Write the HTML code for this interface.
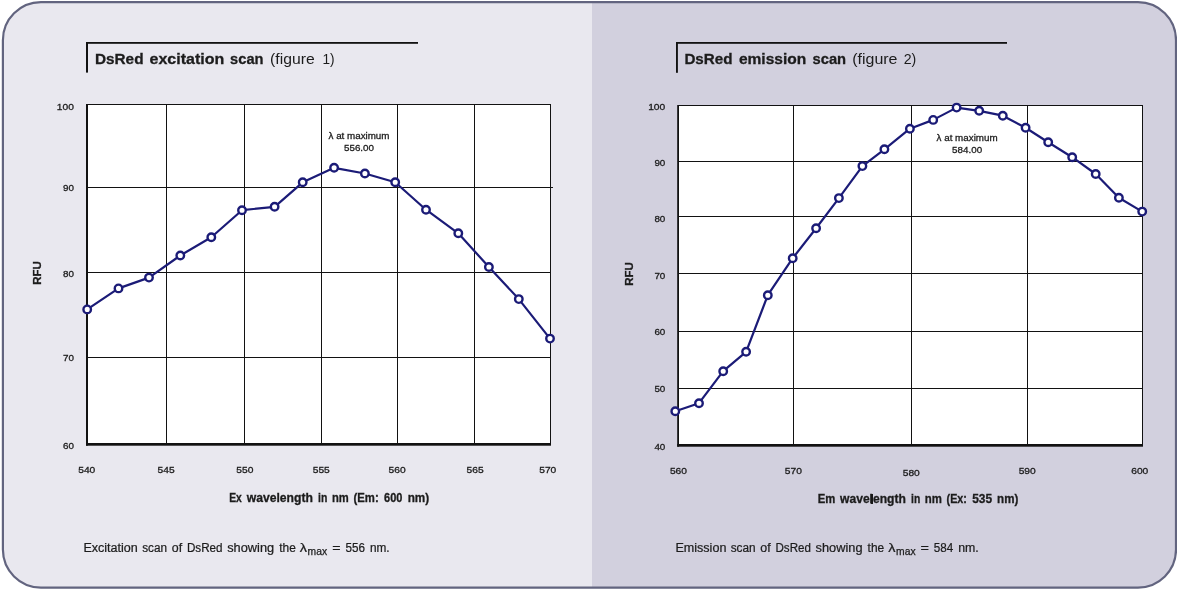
<!DOCTYPE html>
<html><head><meta charset="utf-8"><title>DsRed scans</title>
<style>
html,body{margin:0;padding:0;background:#fff;}
body{width:1177px;height:590px;overflow:hidden;font-family:"Liberation Sans",sans-serif;}
svg{display:block;will-change:transform;font-family:"Liberation Sans",sans-serif;}
text{fill:#1c1c1c;}
.tick{font-size:10.4px;stroke:#1c1c1c;stroke-width:.25px;}
.ann{font-size:9.8px;stroke:#1c1c1c;stroke-width:.3px;}
</style></head><body>
<svg width="1177" height="590" viewBox="0 0 1177 590">
<defs><clipPath id="panel"><rect x="2.9" y="2.2" width="1173.1" height="585.4" rx="38" ry="38"/></clipPath></defs>
<g clip-path="url(#panel)">
<rect x="0" y="0" width="592" height="590" fill="#e9e8ef"/>
<rect x="592" y="0" width="585" height="590" fill="#d2d0de"/>
</g>
<rect x="2.9" y="2.2" width="1173.1" height="585.4" rx="38" ry="38" fill="none" stroke="#62647f" stroke-width="2.2"/>
<!-- left title -->
<g fill="#121212"><rect x="86" y="42" width="332" height="1.8"/><rect x="86" y="42" width="2" height="30.6"/></g>
<text y="64.1" font-size="15.4" font-weight="bold" stroke="#1c1c1c" stroke-width=".3"><tspan x="94.90" textLength="48.61" lengthAdjust="spacingAndGlyphs">DsRed</tspan><tspan x="149.50" textLength="74.72" lengthAdjust="spacingAndGlyphs">excitation</tspan><tspan x="230.10" textLength="33.38" lengthAdjust="spacingAndGlyphs">scan</tspan></text>
<text y="64.1" font-size="15.4" fill="#3a3a3a"><tspan x="270.10" textLength="44.62" lengthAdjust="spacingAndGlyphs">(figure</tspan><tspan x="322.50" textLength="12.09" lengthAdjust="spacingAndGlyphs">1)</tspan></text>
<rect x="87" y="104.5" width="464" height="340" fill="#fff"/>
<g fill="#121212">
<rect x="166" y="104" width="1" height="341"/><rect x="244" y="104" width="1" height="341"/><rect x="321" y="104" width="1" height="341"/><rect x="397" y="104" width="1" height="341"/><rect x="474" y="104" width="1" height="341"/><rect x="550" y="104" width="1" height="341"/><rect x="87" y="104" width="464" height="1"/><rect x="87" y="187" width="466" height="1"/><rect x="87" y="272" width="464" height="1"/><rect x="87" y="357" width="464" height="1"/><rect x="86" y="104" width="2" height="341.6"/><rect x="86" y="443" width="465" height="2.7"/>
</g>
<polyline fill="none" stroke="#1b1b77" stroke-width="2.2" stroke-linejoin="round" points="87.2,309.4 118.5,288.4 149,277.6 180.3,255.5 211.3,237.3 242,210.2 274.6,206.8 302.7,182.3 334.1,167.8 364.9,173.5 395.2,182.2 426,209.7 458.3,233.3 488.9,267 518.8,299.1 550,338.6"/>
<g fill="#fff" stroke="#1b1b77" stroke-width="2.4"><circle cx="87.2" cy="309.4" r="3.75"/><circle cx="118.5" cy="288.4" r="3.75"/><circle cx="149" cy="277.6" r="3.75"/><circle cx="180.3" cy="255.5" r="3.75"/><circle cx="211.3" cy="237.3" r="3.75"/><circle cx="242" cy="210.2" r="3.75"/><circle cx="274.6" cy="206.8" r="3.75"/><circle cx="302.7" cy="182.3" r="3.75"/><circle cx="334.1" cy="167.8" r="3.75"/><circle cx="364.9" cy="173.5" r="3.75"/><circle cx="395.2" cy="182.2" r="3.75"/><circle cx="426" cy="209.7" r="3.75"/><circle cx="458.3" cy="233.3" r="3.75"/><circle cx="488.9" cy="267" r="3.75"/><circle cx="518.8" cy="299.1" r="3.75"/><circle cx="550" cy="338.6" r="3.75"/></g>
<text y="109.6" font-size="9.7" stroke="#1c1c1c" stroke-width=".3"><tspan x="56.80" textLength="17.07" lengthAdjust="spacingAndGlyphs">100</tspan></text>
<text y="190.8" font-size="9.7" stroke="#1c1c1c" stroke-width=".3"><tspan x="63.00" textLength="10.93" lengthAdjust="spacingAndGlyphs">90</tspan></text>
<text y="276.5" font-size="9.7" stroke="#1c1c1c" stroke-width=".3"><tspan x="63.00" textLength="10.93" lengthAdjust="spacingAndGlyphs">80</tspan></text>
<text y="361.1" font-size="9.7" stroke="#1c1c1c" stroke-width=".3"><tspan x="63.00" textLength="10.93" lengthAdjust="spacingAndGlyphs">70</tspan></text>
<text y="449.1" font-size="9.7" stroke="#1c1c1c" stroke-width=".3"><tspan x="63.00" textLength="10.93" lengthAdjust="spacingAndGlyphs">60</tspan></text>
<text y="473.2" font-size="9.7" stroke="#1c1c1c" stroke-width=".3"><tspan x="78.25" textLength="17.07" lengthAdjust="spacingAndGlyphs">540</tspan></text>
<text y="473.2" font-size="9.7" stroke="#1c1c1c" stroke-width=".3"><tspan x="157.55" textLength="17.07" lengthAdjust="spacingAndGlyphs">545</tspan></text>
<text y="473.2" font-size="9.7" stroke="#1c1c1c" stroke-width=".3"><tspan x="236.35" textLength="17.07" lengthAdjust="spacingAndGlyphs">550</tspan></text>
<text y="473.2" font-size="9.7" stroke="#1c1c1c" stroke-width=".3"><tspan x="312.75" textLength="17.07" lengthAdjust="spacingAndGlyphs">555</tspan></text>
<text y="473.2" font-size="9.7" stroke="#1c1c1c" stroke-width=".3"><tspan x="388.55" textLength="17.07" lengthAdjust="spacingAndGlyphs">560</tspan></text>
<text y="473.2" font-size="9.7" stroke="#1c1c1c" stroke-width=".3"><tspan x="466.55" textLength="17.07" lengthAdjust="spacingAndGlyphs">565</tspan></text>
<text y="473.2" font-size="9.7" stroke="#1c1c1c" stroke-width=".3"><tspan x="539.25" textLength="17.07" lengthAdjust="spacingAndGlyphs">570</tspan></text>
<text y="501.8" font-size="12" font-weight="bold" stroke="#1c1c1c" stroke-width=".3"><tspan x="229.20" textLength="12.59" lengthAdjust="spacingAndGlyphs">Ex</tspan><tspan x="246.76" textLength="66.11" lengthAdjust="spacingAndGlyphs">wavelength</tspan><tspan x="318.00" textLength="9.28" lengthAdjust="spacingAndGlyphs">in</tspan><tspan x="332.00" textLength="16.80" lengthAdjust="spacingAndGlyphs">nm</tspan><tspan x="353.50" textLength="25.18" lengthAdjust="spacingAndGlyphs">(Em:</tspan><tspan x="384.10" textLength="18.32" lengthAdjust="spacingAndGlyphs">600</tspan><tspan x="407.70" textLength="21.50" lengthAdjust="spacingAndGlyphs">nm)</tspan></text>
<text font-size="11.5" font-weight="bold" stroke="#1c1c1c" stroke-width=".3" text-anchor="middle" transform="translate(40.8 273) rotate(-90)">RFU</text>
<text class="ann" text-anchor="middle" x="359" y="138.9">λ at maximum</text><text class="ann" text-anchor="middle" x="359" y="150.8">556.00</text>
<text y="551.5" font-size="12" stroke="#1c1c1c" stroke-width=".22"><tspan x="83.40" textLength="54.43" lengthAdjust="spacingAndGlyphs">Excitation</tspan><tspan x="142.20" textLength="24.87" lengthAdjust="spacingAndGlyphs">scan</tspan><tspan x="171.80" textLength="10.34" lengthAdjust="spacingAndGlyphs">of</tspan><tspan x="186.90" textLength="35.69" lengthAdjust="spacingAndGlyphs">DsRed</tspan><tspan x="227.20" textLength="46.93" lengthAdjust="spacingAndGlyphs">showing</tspan><tspan x="279.20" textLength="16.59" lengthAdjust="spacingAndGlyphs">the</tspan><tspan x="299.80" textLength="7.20" lengthAdjust="spacingAndGlyphs">λ</tspan><tspan x="332.20" textLength="8.31" lengthAdjust="spacingAndGlyphs">=</tspan><tspan x="345.60" textLength="19.52" lengthAdjust="spacingAndGlyphs">556</tspan><tspan x="369.90" textLength="19.70" lengthAdjust="spacingAndGlyphs">nm.</tspan></text>
<text y="555.3" font-size="10" stroke="#1c1c1c" stroke-width=".25"><tspan x="307.60" textLength="19.52" lengthAdjust="spacingAndGlyphs">max</tspan></text>
<!-- right title -->
<g fill="#121212"><rect x="676" y="42" width="331" height="1.8"/><rect x="676" y="42" width="1.9" height="30.8"/></g>
<text y="64.1" font-size="15.4" font-weight="bold" stroke="#1c1c1c" stroke-width=".3"><tspan x="684.40" textLength="48.11" lengthAdjust="spacingAndGlyphs">DsRed</tspan><tspan x="738.90" textLength="67.42" lengthAdjust="spacingAndGlyphs">emission</tspan><tspan x="812.50" textLength="33.58" lengthAdjust="spacingAndGlyphs">scan</tspan></text>
<text y="64.1" font-size="15.4" fill="#3a3a3a"><tspan x="852.20" textLength="45.32" lengthAdjust="spacingAndGlyphs">(figure</tspan><tspan x="903.70" textLength="12.58" lengthAdjust="spacingAndGlyphs">2)</tspan></text>
<rect x="678" y="105.5" width="465" height="340" fill="#fff"/>
<g fill="#121212">
<rect x="793" y="105" width="1" height="341"/><rect x="911" y="105" width="1" height="341"/><rect x="1027" y="105" width="1" height="341"/><rect x="1142" y="105" width="1" height="341"/><rect x="678" y="105" width="465" height="1"/><rect x="678" y="161" width="465" height="1"/><rect x="678" y="216" width="465" height="1"/><rect x="678" y="273" width="465" height="1"/><rect x="678" y="331" width="465" height="1"/><rect x="678" y="388" width="465" height="1"/><rect x="677.2" y="105" width="1.8" height="341.7"/><rect x="677.2" y="444" width="465.8" height="2.7"/>
</g>
<polyline fill="none" stroke="#1b1b77" stroke-width="2.2" stroke-linejoin="round" points="675.3,411.2 699,403.2 723.2,371.2 746.1,351.8 767.8,295.2 792.7,258.2 816.1,228.3 838.9,198.1 862.4,166.1 884.4,149.3 909.9,128.7 933.2,119.9 956.6,107.6 979.2,110.8 1002.8,115.7 1025.6,127.8 1048.2,142.2 1072.2,157.2 1095.7,174 1118.9,197.8 1142.2,211.6"/>
<g fill="#fff" stroke="#1b1b77" stroke-width="2.4"><circle cx="675.3" cy="411.2" r="3.75"/><circle cx="699" cy="403.2" r="3.75"/><circle cx="723.2" cy="371.2" r="3.75"/><circle cx="746.1" cy="351.8" r="3.75"/><circle cx="767.8" cy="295.2" r="3.75"/><circle cx="792.7" cy="258.2" r="3.75"/><circle cx="816.1" cy="228.3" r="3.75"/><circle cx="838.9" cy="198.1" r="3.75"/><circle cx="862.4" cy="166.1" r="3.75"/><circle cx="884.4" cy="149.3" r="3.75"/><circle cx="909.9" cy="128.7" r="3.75"/><circle cx="933.2" cy="119.9" r="3.75"/><circle cx="956.6" cy="107.6" r="3.75"/><circle cx="979.2" cy="110.8" r="3.75"/><circle cx="1002.8" cy="115.7" r="3.75"/><circle cx="1025.6" cy="127.8" r="3.75"/><circle cx="1048.2" cy="142.2" r="3.75"/><circle cx="1072.2" cy="157.2" r="3.75"/><circle cx="1095.7" cy="174" r="3.75"/><circle cx="1118.9" cy="197.8" r="3.75"/><circle cx="1142.2" cy="211.6" r="3.75"/></g>
<text y="110.4" font-size="9.7" stroke="#1c1c1c" stroke-width=".3"><tspan x="648.20" textLength="17.07" lengthAdjust="spacingAndGlyphs">100</tspan></text>
<text y="165.7" font-size="9.7" stroke="#1c1c1c" stroke-width=".3"><tspan x="654.40" textLength="10.93" lengthAdjust="spacingAndGlyphs">90</tspan></text>
<text y="221.5" font-size="9.7" stroke="#1c1c1c" stroke-width=".3"><tspan x="654.40" textLength="10.93" lengthAdjust="spacingAndGlyphs">80</tspan></text>
<text y="278.6" font-size="9.7" stroke="#1c1c1c" stroke-width=".3"><tspan x="654.40" textLength="10.93" lengthAdjust="spacingAndGlyphs">70</tspan></text>
<text y="335.2" font-size="9.7" stroke="#1c1c1c" stroke-width=".3"><tspan x="654.40" textLength="10.93" lengthAdjust="spacingAndGlyphs">60</tspan></text>
<text y="392.1" font-size="9.7" stroke="#1c1c1c" stroke-width=".3"><tspan x="654.40" textLength="10.93" lengthAdjust="spacingAndGlyphs">50</tspan></text>
<text y="450.2" font-size="9.7" stroke="#1c1c1c" stroke-width=".3"><tspan x="654.40" textLength="10.93" lengthAdjust="spacingAndGlyphs">40</tspan></text>
<text y="474.1" font-size="9.7" stroke="#1c1c1c" stroke-width=".3"><tspan x="669.95" textLength="17.07" lengthAdjust="spacingAndGlyphs">560</tspan></text>
<text y="474.1" font-size="9.7" stroke="#1c1c1c" stroke-width=".3"><tspan x="784.85" textLength="17.07" lengthAdjust="spacingAndGlyphs">570</tspan></text>
<text y="476" font-size="9.7" stroke="#1c1c1c" stroke-width=".3"><tspan x="902.75" textLength="17.07" lengthAdjust="spacingAndGlyphs">580</tspan></text>
<text y="474" font-size="9.7" stroke="#1c1c1c" stroke-width=".3"><tspan x="1018.65" textLength="17.07" lengthAdjust="spacingAndGlyphs">590</tspan></text>
<text y="474.1" font-size="9.7" stroke="#1c1c1c" stroke-width=".3"><tspan x="1131.25" textLength="17.07" lengthAdjust="spacingAndGlyphs">600</tspan></text>
<text y="502.9" font-size="12" font-weight="bold" stroke="#1c1c1c" stroke-width=".3"><tspan x="817.80" textLength="17.59" lengthAdjust="spacingAndGlyphs">Em</tspan><tspan x="840.06" textLength="65.81" lengthAdjust="spacingAndGlyphs">wavelength</tspan><tspan x="911.10" textLength="9.18" lengthAdjust="spacingAndGlyphs">in</tspan><tspan x="924.80" textLength="17.10" lengthAdjust="spacingAndGlyphs">nm</tspan><tspan x="946.60" textLength="20.28" lengthAdjust="spacingAndGlyphs">(Ex:</tspan><tspan x="972.20" textLength="19.92" lengthAdjust="spacingAndGlyphs">535</tspan><tspan x="997.10" textLength="21.20" lengthAdjust="spacingAndGlyphs">nm)</tspan></text>
<rect x="870.7" y="494" width="2.3" height="10" fill="#161616"/>
<text font-size="11.5" font-weight="bold" stroke="#1c1c1c" stroke-width=".3" text-anchor="middle" transform="translate(632.8 274) rotate(-90)">RFU</text>
<text class="ann" text-anchor="middle" x="967.1" y="140.6">λ at maximum</text><text class="ann" text-anchor="middle" x="967.1" y="152.9">584.00</text>
<text y="551.5" font-size="12" stroke="#1c1c1c" stroke-width=".22"><tspan x="675.40" textLength="50.99" lengthAdjust="spacingAndGlyphs">Emission</tspan><tspan x="730.70" textLength="24.97" lengthAdjust="spacingAndGlyphs">scan</tspan><tspan x="760.30" textLength="10.34" lengthAdjust="spacingAndGlyphs">of</tspan><tspan x="775.50" textLength="35.39" lengthAdjust="spacingAndGlyphs">DsRed</tspan><tspan x="815.60" textLength="46.93" lengthAdjust="spacingAndGlyphs">showing</tspan><tspan x="867.60" textLength="16.59" lengthAdjust="spacingAndGlyphs">the</tspan><tspan x="888.30" textLength="7.20" lengthAdjust="spacingAndGlyphs">λ</tspan><tspan x="920.60" textLength="8.41" lengthAdjust="spacingAndGlyphs">=</tspan><tspan x="933.80" textLength="19.42" lengthAdjust="spacingAndGlyphs">584</tspan><tspan x="958.20" textLength="20.60" lengthAdjust="spacingAndGlyphs">nm.</tspan></text>
<text y="555.3" font-size="10" stroke="#1c1c1c" stroke-width=".25"><tspan x="896.10" textLength="19.52" lengthAdjust="spacingAndGlyphs">max</tspan></text>
</svg>
</body></html>
